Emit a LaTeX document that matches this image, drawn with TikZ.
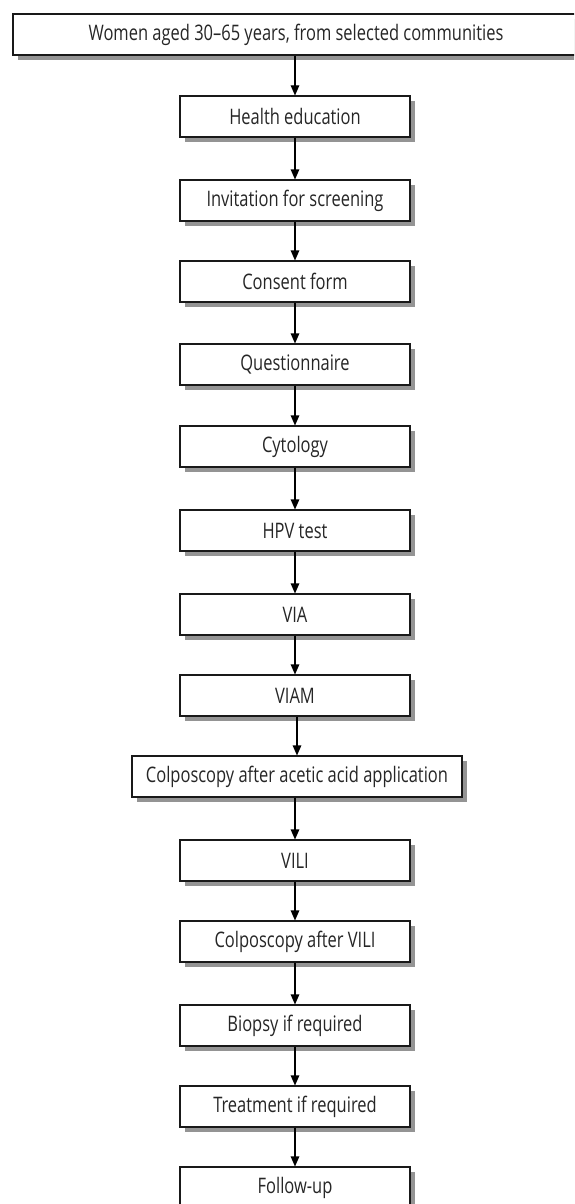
\documentclass[tikz,border=0pt]{standalone}
\usepackage{fontspec}
\setmainfont{Open Sans}[FakeStretch=0.77]
\usetikzlibrary{shadows,arrows.meta}
\begin{document}
\begin{tikzpicture}[x=1pt,y=-1pt,
  stepbox/.style={draw=black!90, line width=1.1pt, fill=white, minimum width=230pt,
    minimum height=41pt, inner sep=0pt, font=\fontsize{21.4}{25}\selectfont, text=black!85,
    drop shadow={shadow xshift=5pt, shadow yshift=-5pt, fill=black!42, opacity=1}},
  arr/.style={line width=1.1pt, -{Triangle[length=10pt,width=8.5pt]}}]
\clip (0,0) rectangle (574,1204);
\fill[white] (0,0) rectangle (574,1204);
\node[stepbox, minimum width=566pt] (top) at (296,34.5) {Women aged 30–65 years, from selected communities};
\node[stepbox] (he) at (295,116.5) {Health education};
\node[stepbox] (inv) at (295,200.5) {Invitation for screening};
\node[stepbox] (cons) at (295,281.5) {Consent form};
\node[stepbox] (ques) at (295,364.5) {Questionnaire};
\node[stepbox] (cyto) at (295,446.5) {Cytology};
\node[stepbox] (hpv) at (295,530.5) {HPV test};
\node[stepbox] (via) at (295,614.5) {VIA};
\node[stepbox] (viam) at (295,695.5) {VIAM};
\node[stepbox, minimum width=330pt] (colpa) at (297,776.5) {Colposcopy after acetic acid application};
\node[stepbox] (vili) at (295,860.5) {VILI};
\node[stepbox] (colpv) at (295,941.5) {Colposcopy after VILI};
\node[stepbox] (bio) at (295,1025.5) {Biopsy if required};
\node[stepbox] (treat) at (295,1106.5) {Treatment if required};
\node[stepbox] (fol) at (295,1187.5) {Follow-up};
\foreach \a/\b in {top/he,he/inv,inv/cons,cons/ques,ques/cyto,cyto/hpv,hpv/via,via/viam,viam/colpa,colpa/vili,vili/colpv,colpv/bio,bio/treat,treat/fol}
  \draw[arr] (\b.north |- \a.south) -- (\b.north);
\end{tikzpicture}
\end{document}
